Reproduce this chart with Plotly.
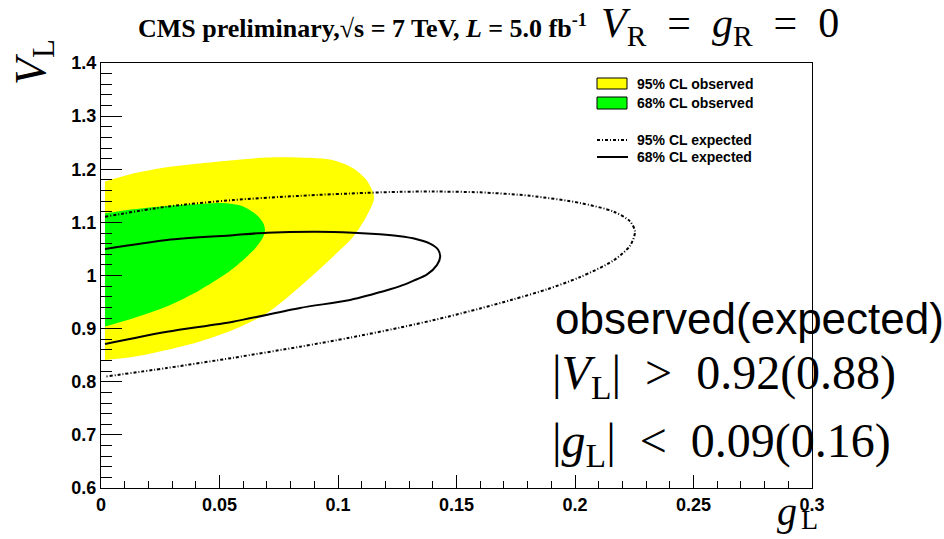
import plotly.graph_objects as go

# ---- contour data (g_L, V_L) ----
# 95% CL observed region
obs95_gL = [0.0017, 0.0136, 0.0277, 0.0418, 0.0558, 0.0699, 0.0839, 0.0980, 0.1064,
            0.1120, 0.1149, 0.1151, 0.1120, 0.1064, 0.0980, 0.0839, 0.0699, 0.0558,
            0.0418, 0.0277, 0.0136, 0.0017]
obs95_VL = [1.177, 1.192, 1.204, 1.211, 1.217, 1.222, 1.222, 1.217, 1.202,
            1.180, 1.155, 1.142, 1.111, 1.073, 1.036, 0.979, 0.929, 0.898,
            0.876, 0.860, 0.847, 0.841]

# 68% CL observed region
obs68_gL = [0.0017, 0.0136, 0.0277, 0.0418, 0.0530, 0.0600, 0.0657, 0.0685, 0.0692,
            0.0685, 0.0657, 0.0600, 0.0530, 0.0418, 0.0277, 0.0136, 0.0017]
obs68_VL = [1.117, 1.1246, 1.131, 1.1346, 1.136, 1.130, 1.114, 1.0983, 1.0857,
            1.0732, 1.0544, 1.0293, 1.0042, 0.9729, 0.9415, 0.9196, 0.904]

# 95% CL expected contour
exp95_gL = [0.0017, 0.0279, 0.0557, 0.0840, 0.1122, 0.1262, 0.1400, 0.1600, 0.1810,
            0.2021, 0.2161, 0.2232, 0.2253, 0.2232, 0.2161, 0.2021, 0.1882, 0.1739,
            0.1600, 0.1460, 0.1262, 0.1051, 0.0840, 0.0557, 0.0279, 0.0017]
exp95_VL = [1.1107, 1.1296, 1.1420, 1.1500, 1.1556, 1.1575, 1.1580, 1.1565, 1.1500,
            1.1365, 1.1205, 1.1020, 1.0825, 1.0560, 1.0280, 0.9970, 0.9740, 0.9550,
            0.9380, 0.9220, 0.9020, 0.8830, 0.8660, 0.8450, 0.8260, 0.8096]

# 68% CL expected contour
exp68_gL = [0.0017, 0.0279, 0.0557, 0.0701, 0.0912, 0.1063, 0.1177, 0.1262, 0.1317,
            0.1388, 0.1422, 0.1431, 0.1418, 0.1376, 0.1317, 0.1262, 0.1220, 0.1051,
            0.0840, 0.0557, 0.0279, 0.0017]
exp68_VL = [1.050, 1.067, 1.076, 1.0806, 1.0825, 1.0806, 1.0776, 1.0740, 1.0700,
            1.0600, 1.0490, 1.0350, 1.0200, 1.0020, 0.9900, 0.9800, 0.9740, 0.9540,
            0.9390, 0.9130, 0.8940, 0.8710]

legend_names = ["95% CL observed", "68% CL observed", "95% CL expected", "68% CL expected"]
obs_colors = ["#ffff00", "#00ff00"]
exp_dash = "3px,2px,1px,2px"

# ---- figure geometry (pixels) ----
W, H = 944, 539
L, R, T, B = 101, 812, 63, 488


def px(x):
    return (x - L) / (R - L)


def py(y):
    return (B - y) / (B - T)


fig = go.Figure()

fig.add_trace(go.Scatter(
    x=obs95_gL, y=obs95_VL, mode="lines", fill="toself", fillcolor=obs_colors[0],
    line=dict(width=0, shape="spline", smoothing=0.8, color=obs_colors[0]),
    name=legend_names[0], hoverinfo="skip"))
fig.add_trace(go.Scatter(
    x=obs68_gL, y=obs68_VL, mode="lines", fill="toself", fillcolor=obs_colors[1],
    line=dict(width=0, shape="spline", smoothing=0.8, color=obs_colors[1]),
    name=legend_names[1], hoverinfo="skip"))
fig.add_trace(go.Scatter(
    x=exp95_gL, y=exp95_VL, mode="lines",
    line=dict(width=2, color="black", dash=exp_dash, shape="spline", smoothing=0.8),
    name=legend_names[2], hoverinfo="skip"))
fig.add_trace(go.Scatter(
    x=exp68_gL, y=exp68_VL, mode="lines",
    line=dict(width=2, color="black", shape="spline", smoothing=0.8),
    name=legend_names[3], hoverinfo="skip"))

tick_font = dict(family="Liberation Sans", size=18, color="black", weight="bold")

fig.update_xaxes(
    range=[0, 0.3], tick0=0, dtick=0.05, showgrid=False, zeroline=False,
    showline=True, linecolor="black", linewidth=1, mirror=True,
    ticks="inside", ticklen=13, tickcolor="black", tickwidth=1,
    minor=dict(ticks="inside", ticklen=7, dtick=0.01, tickcolor="black", tickwidth=1, showgrid=False),
    tickfont=tick_font, ticklabeloverflow="allow", automargin=False)
fig.update_yaxes(
    range=[0.6, 1.4], tick0=0.6, dtick=0.1, showgrid=False, zeroline=False,
    showline=True, linecolor="black", linewidth=1, mirror=True,
    ticks="inside", ticklen=21, tickcolor="black", tickwidth=1,
    minor=dict(ticks="inside", ticklen=11, dtick=0.02, tickcolor="black", tickwidth=1, showgrid=False),
    tickfont=tick_font, ticklabeloverflow="allow", automargin=False)

serif = "Liberation Serif"
rel_gap = "&#8194;"  # wider spacing around relation signs
ann = [
    dict(text="CMS preliminary,√s = 7 TeV, <i>L</i> = 5.0 fb<sup>-1</sup>",
         x=px(136), y=py(27), xanchor="left", yanchor="middle",
         font=dict(family=serif, size=26, color="black", weight="bold")),
    dict(text=f"<i>V</i><sub>R</sub>{rel_gap}={rel_gap}<i>g</i><sub>R</sub>{rel_gap}={rel_gap}0",
         x=px(599), y=py(26), xanchor="left", yanchor="middle",
         font=dict(family=serif, size=42, color="black")),
    dict(text="<i>V</i><sub>L</sub>", textangle=-90,
         x=px(34), y=py(62), xanchor="center", yanchor="middle",
         font=dict(family=serif, size=44, color="black")),
    # x-axis label g_L, set as two pieces at the lower-right corner
    dict(text="<i>g</i>", x=px(775), y=py(512), xanchor="left", yanchor="middle",
         font=dict(family=serif, size=40, color="black")),
    dict(text="L", x=px(799), y=py(519), xanchor="left", yanchor="middle",
         font=dict(family=serif, size=28, color="black")),
    dict(text="observed(expected)",
         x=px(553), y=py(318), xanchor="left", yanchor="middle",
         font=dict(family="Liberation Sans", size=44, color="black")),
    dict(text=f"|<i>V</i><sub>L</sub>|{rel_gap}&gt;{rel_gap}0.92(0.88)",
         x=px(550), y=py(376), xanchor="left", yanchor="middle",
         font=dict(family=serif, size=48, color="black")),
    dict(text=f"|<i>g</i><sub>L</sub>|{rel_gap}&lt;{rel_gap}0.09(0.16)",
         x=px(550), y=py(444), xanchor="left", yanchor="middle",
         font=dict(family=serif, size=48, color="black")),
]

# legend block: filled boxes for observed regions, line keys for expected contours
shapes = []
legend_font = dict(family="Liberation Sans", size=14, color="black", weight="bold")
key_x0, key_x1, text_x = 597, 627, 635
for name, color, (y0, y1) in zip(legend_names[:2], obs_colors, [(78, 89), (97, 109)]):
    shapes.append(dict(type="rect", xref="paper", yref="paper",
                       x0=px(key_x0), x1=px(key_x1), y0=py(y1), y1=py(y0),
                       fillcolor=color, line=dict(color="black", width=1)))
    ann.append(dict(text=name, x=px(text_x), y=py((y0 + y1) / 2),
                    xanchor="left", yanchor="middle", font=legend_font))
for name, dash, yk in zip(legend_names[2:], [exp_dash, "solid"], [140, 157]):
    shapes.append(dict(type="line", xref="paper", yref="paper",
                       x0=px(key_x0), x1=px(key_x1 + 1), y0=py(yk), y1=py(yk),
                       line=dict(color="black", width=2, dash=dash)))
    ann.append(dict(text=name, x=px(text_x), y=py(yk),
                    xanchor="left", yanchor="middle", font=legend_font))

for a in ann:
    a.update(xref="paper", yref="paper", showarrow=False)

fig.update_layout(
    width=W, height=H,
    margin=dict(l=L, r=W - R, t=T, b=H - B, pad=0),
    plot_bgcolor="white", paper_bgcolor="white",
    annotations=ann, shapes=shapes,
    showlegend=False,
)

fig.write_html("out.html")
